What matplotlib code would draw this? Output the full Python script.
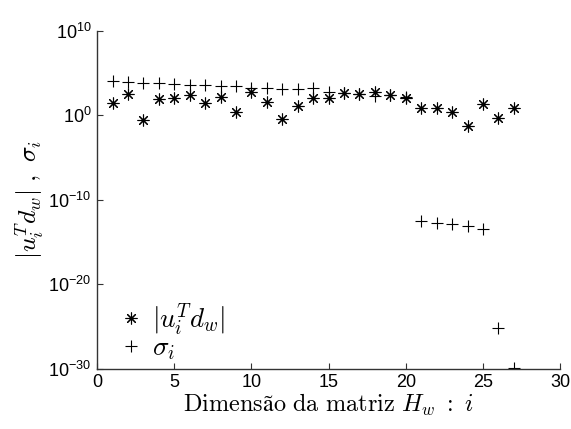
import matplotlib
matplotlib.use("Agg")  # headless
import matplotlib.pyplot as plt
import numpy as np

# |u_i^T d_w| and sigma_i
idx = list(range(1, 28))
utd = [32, 320, 0.30, 83, 130, 270, 28, 140, 2.8, 600,
       43, 0.35, 13, 110, 130, 430, 320, 660, 270, 110,
       7.1, 8.3, 2.8, 0.062, 21, 0.55, 8.3]
sigma = [1.2e4, 1.0e4, 7.6e3, 7.6e3, 4.9e3, 3.7e3, 3.7e3, 3.1e3, 3.1e3, 1.9e3,
         1.7e3, 1.4e3, 1.4e3, 1.7e3, 560, 430, 320, 200, 270, 150,
         3.5e-13, 1.7e-13, 1.3e-13, 8.3e-14, 3.7e-14, 6.6e-26, 1.4e-30]

xticks = [0, 5, 10, 15, 20, 25, 30]
yticks = [1e-30, 1e-20, 1e-10, 1e0, 1e10]

plt.rcParams["font.family"] = ["Liberation Sans", "DejaVu Sans"]
plt.rcParams["mathtext.fontset"] = "cm"

fig = plt.figure(figsize=(5.71, 4.29), dpi=100)
ax = fig.add_axes([0.170, 0.140, 0.811, 0.788])

ax.semilogy(idx, utd, linestyle="none", marker=(8, 2, 0), markersize=8.5,
            markeredgewidth=0.8, color="black", label=r"$|u_i^T d_w|$")
ax.semilogy(idx, sigma, linestyle="none", marker="+", markersize=9,
            markeredgewidth=0.8, color="black", label=r"$\sigma_i$")

ax.set_xlim(0, 30)
ax.set_ylim(1e-30, 1e10)
ax.set_xticks(xticks)
ax.set_yticks(yticks)
ax.yaxis.set_minor_locator(matplotlib.ticker.NullLocator())

for s in ["top", "right"]:
    ax.spines[s].set_visible(False)
for s in ["left", "bottom"]:
    ax.spines[s].set_color("#333333")
    ax.spines[s].set_linewidth(1.0)
ax.tick_params(direction="in", length=4, width=0.8, color="#333333",
               labelsize=13, pad=4)

ax.set_xlabel(r"$\mathrm{Dimensão\ da\ matriz}\ H_w\ :\ i$", fontsize=17.5, labelpad=0)
ax.set_ylabel(r"$|u_i^T d_w|\ ,\ \sigma_i$", fontsize=18.5, labelpad=2)

ax.legend(loc="lower left", frameon=False, fontsize=19.5, handlelength=1.0,
          handletextpad=0.3, labelspacing=-0.05, borderaxespad=0.0,
          bbox_to_anchor=(0.02, -0.012))

plt.savefig("out.png", dpi=100)
plt.close()
